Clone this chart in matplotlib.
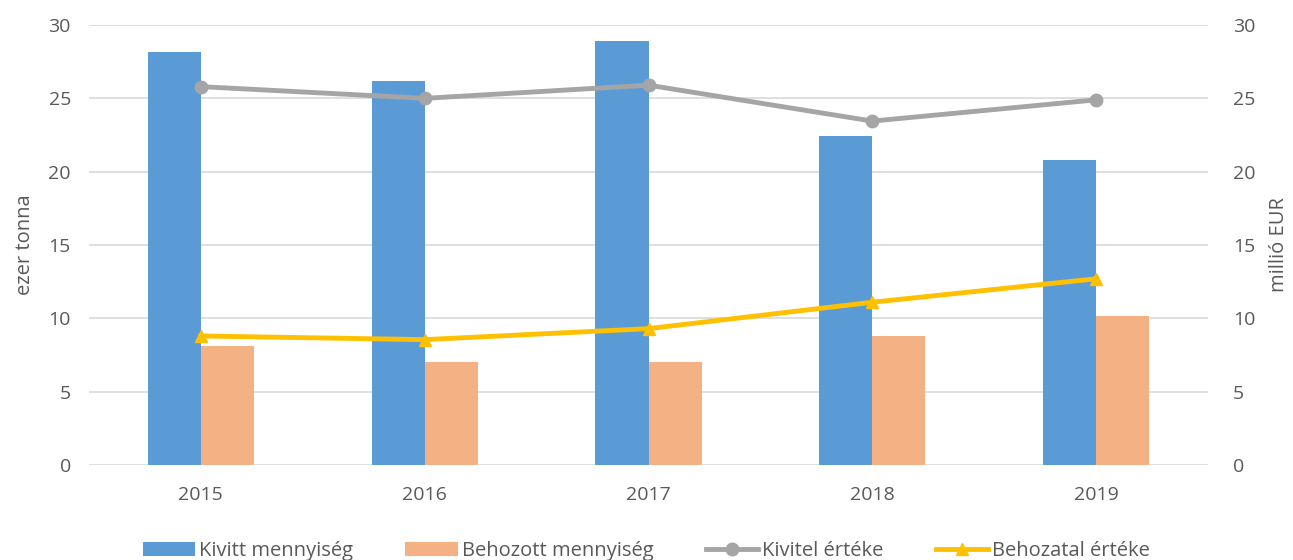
import numpy as np
import matplotlib.pyplot as plt

years = ["2015", "2016", "2017", "2018", "2019"]
kivitt_menny = [28.15, 26.2, 28.9, 22.4, 20.8]
behozott_menny = [8.1, 7.05, 7.05, 8.8, 10.15]
kivitel_ertek = [25.8, 25.0, 25.9, 23.45, 24.9]
behozatal_ertek = [8.8, 8.55, 9.3, 11.1, 12.7]

plt.rcParams['font.family'] = ['Open Sans', 'DejaVu Sans']
text_col = '#595959'

fig = plt.figure(figsize=(12.93, 5.6), dpi=100)
ax = fig.add_axes([0.0688, 0.1696, 0.8655, 0.7857])
ax2 = ax.twinx()

x = np.arange(len(years))
w = 0.237
ax.bar(x - w / 2, kivitt_menny, w, color='#5B9BD5', label='Kivitt mennyiség', zorder=2)
ax.bar(x + w / 2, behozott_menny, w, color='#F4B183', label='Behozott mennyiség', zorder=2)

ax2.plot(x, kivitel_ertek, color='#A5A5A5', lw=3.5, marker='o', ms=9,
         label='Kivitel értéke', zorder=3)
ax2.plot(x, behozatal_ertek, color='#FFC000', lw=3.5, marker='^', ms=9,
         label='Behozatal értéke', zorder=3)

for a in (ax, ax2):
    a.set_ylim(0, 30)
    a.set_yticks(range(0, 31, 5))
    a.tick_params(length=0, labelsize=14, colors=text_col)
    for s in a.spines.values():
        s.set_visible(False)
ax.set_xlim(-0.5, 4.5)
ax.set_xticks(x)
ax.set_xticklabels(years)
ax.tick_params(axis='x', pad=15)
ax.tick_params(axis='y', pad=13)
ax2.tick_params(axis='y', pad=18)
ax.yaxis.grid(True, color='#D9D9D9', lw=1.2, zorder=0)
ax.set_axisbelow(True)

ax.set_ylabel('ezer tonna', fontsize=14.5, color=text_col, labelpad=10)
ax2.set_ylabel('millió EUR', fontsize=14.5, color=text_col, labelpad=10)

h1, l1 = ax.get_legend_handles_labels()
h2, l2 = ax2.get_legend_handles_labels()
fig.legend(h1 + h2, l1 + l2, loc='lower center', bbox_to_anchor=(0.5, -0.035),
           ncol=4, frameon=False, fontsize=14.5, labelcolor=text_col,
           handlelength=2.6, handletextpad=0.2, columnspacing=2.6)

fig.savefig('out.png', dpi=100)
